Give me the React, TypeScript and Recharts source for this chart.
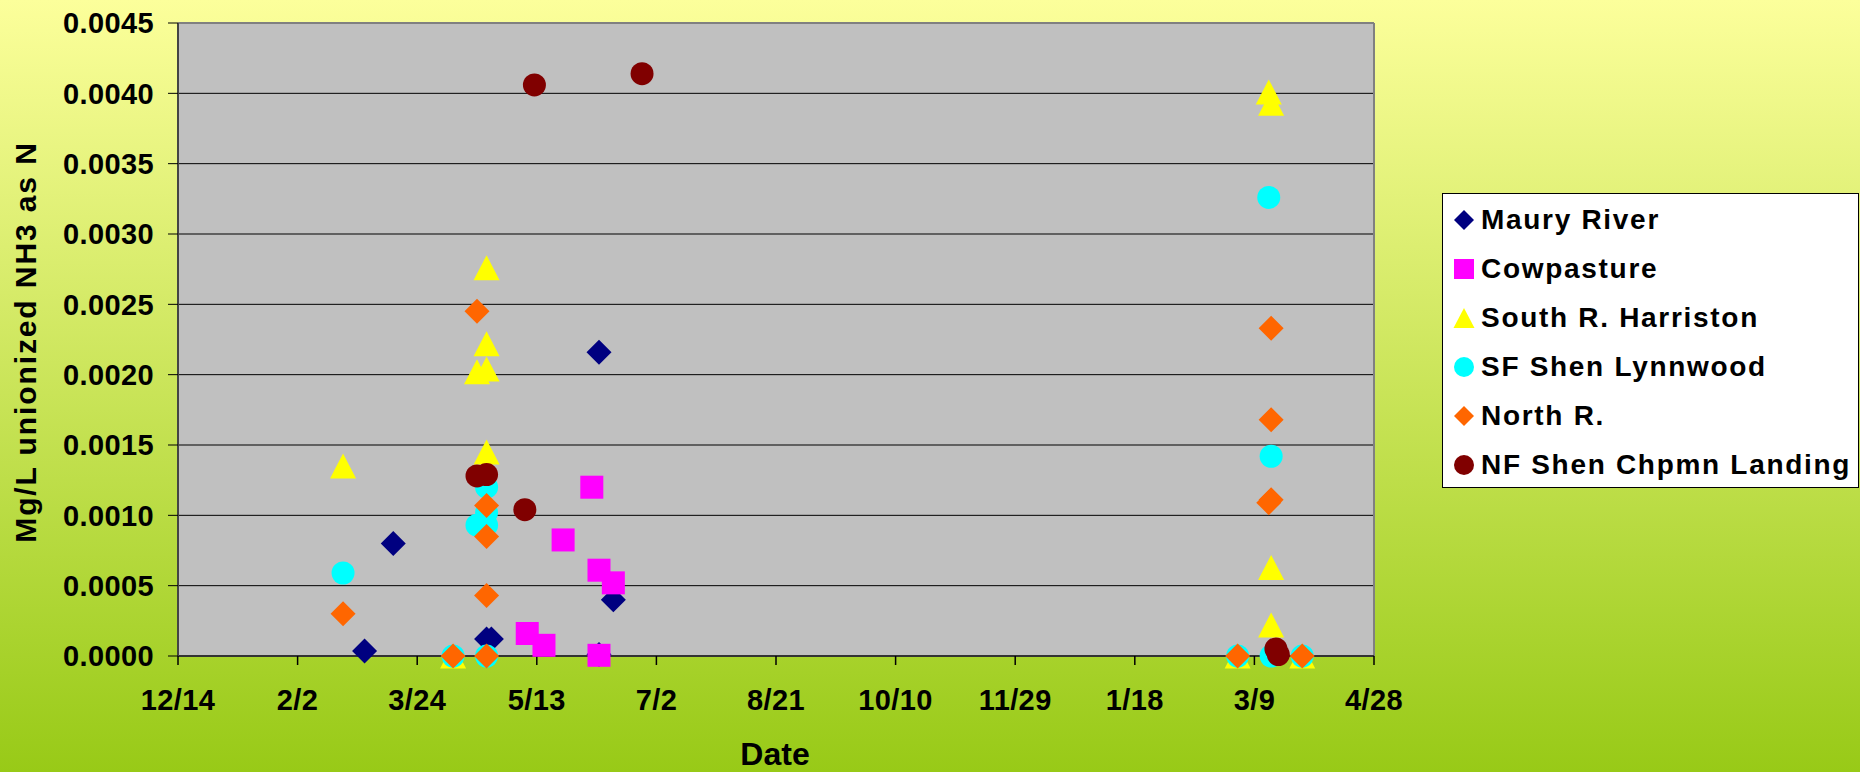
import React from 'react';
import { ScatterChart, Scatter, XAxis, YAxis, CartesianGrid, ReferenceLine, Label } from 'recharts';

// day 0 of the x axis (Excel axis minimum)
const BASE_DATE = '2004-12-14';

const X_TICK_DATES = [
    '2004-12-14', '2005-02-02', '2005-03-24', '2005-05-13', '2005-07-02', '2005-08-21',
    '2005-10-10', '2005-11-29', '2006-01-18', '2006-03-09', '2006-04-28',
];
const Y_TICKS = [0, 0.0005, 0.001, 0.0015, 0.002, 0.0025, 0.003, 0.0035, 0.004, 0.0045];

// [sample date, Mg/L unionized NH3 as N]
const MAURY_RIVER: [string, number][] = [
    ['2005-03-02', 0.000036],
    ['2005-03-14', 0.0008],
    ['2005-04-22', 0.00012],
    ['2005-04-24', 0.00012],
    ['2005-06-08', 0.00216],
    ['2005-06-08', 0.00001],
    ['2005-06-14', 0.0004],
];

const COWPASTURE: [string, number][] = [
    ['2005-05-09', 0.00016],
    ['2005-05-16', 0.000076],
    ['2005-05-24', 0.000825],
    ['2005-06-05', 0.0012],
    ['2005-06-08', 0.00061],
    ['2005-06-14', 0.00052],
    ['2005-06-08', 0.000005],
];

const SOUTH_R_HARRISTON: [string, number][] = [
    ['2005-02-21', 0.00135],
    ['2005-04-08', 0.0],
    ['2005-04-18', 0.00202],
    ['2005-04-22', 0.00276],
    ['2005-04-22', 0.00222],
    ['2005-04-22', 0.00204],
    ['2005-04-22', 0.00145],
    ['2006-03-02', 0.0],
    ['2006-03-15', 0.00401],
    ['2006-03-16', 0.00393],
    ['2006-03-16', 0.00063],
    ['2006-03-16', 0.00022],
    ['2006-03-29', 0.0],
];

const SF_SHEN_LYNNWOOD: [string, number][] = [
    ['2005-02-21', 0.00059],
    ['2005-04-08', 0.0],
    ['2005-04-18', 0.00093],
    ['2005-04-22', 0.0012],
    ['2005-04-22', 0.00102],
    ['2005-04-22', 0.00093],
    ['2005-04-22', 0.0],
    ['2006-03-02', 0.0],
    ['2006-03-15', 0.00326],
    ['2006-03-16', 0.00142],
    ['2006-03-16', 0.0],
    ['2006-03-29', 0.0],
];

const NORTH_R: [string, number][] = [
    ['2005-02-21', 0.0003],
    ['2005-04-08', 0.0],
    ['2005-04-18', 0.00245],
    ['2005-04-22', 0.00107],
    ['2005-04-22', 0.00085],
    ['2005-04-22', 0.00043],
    ['2005-04-22', 0.0],
    ['2006-03-02', 0.0],
    ['2006-03-16', 0.00233],
    ['2006-03-16', 0.00168],
    ['2006-03-16', 0.00111],
    ['2006-03-15', 0.00109],
    ['2006-03-29', 0.0],
];

const NF_SHEN_CHPMN_LANDING: [string, number][] = [
    ['2005-04-18', 0.00128],
    ['2005-04-22', 0.00129],
    ['2005-05-08', 0.00104],
    ['2005-05-12', 0.00406],
    ['2005-06-26', 0.00414],
    ['2006-03-18', 0.00005],
    ['2006-03-19', 0.00001],
];

const DAY_MS = 86400000;
const toDay = (s: string) => (Date.parse(s) - Date.parse(BASE_DATE)) / DAY_MS;
const toPoints = (rows: [string, number][]) => rows.map(([d, v]) => ({ x: toDay(d), y: v }));
const fmtDate = (day: number) => {
    const dt = new Date(Date.parse(BASE_DATE) + day * DAY_MS);
    return `${dt.getUTCMonth() + 1}/${dt.getUTCDate()}`;
};

const FONT = '"Liberation Sans", Arial, sans-serif';

// Excel-style marker shapes
const Diamond = ({ cx, cy, fill, r = 12.5 }: any) => (
    <polygon points={`${cx},${cy - r} ${cx + r},${cy} ${cx},${cy + r} ${cx - r},${cy}`} fill={fill} />
);
const Square = ({ cx, cy, fill, r = 11.5 }: any) => (
    <rect x={cx - r} y={cy - r} width={r * 2} height={r * 2} fill={fill} />
);
const Triangle = ({ cx, cy, fill, r = 12.5 }: any) => (
    <polygon points={`${cx},${cy - r} ${cx + r + 0.5},${cy + r} ${cx - r - 0.5},${cy + r}`} fill={fill} />
);
const Dot = ({ cx, cy, fill, r = 11.5 }: any) => <circle cx={cx} cy={cy} r={r} fill={fill} />;

const SERIES = [
    { name: 'Maury River', rows: MAURY_RIVER, color: '#000080', Shape: Diamond },
    { name: 'Cowpasture', rows: COWPASTURE, color: '#FF00FF', Shape: Square },
    { name: 'South R. Harriston', rows: SOUTH_R_HARRISTON, color: '#FFFF00', Shape: Triangle },
    { name: 'SF Shen Lynnwood', rows: SF_SHEN_LYNNWOOD, color: '#00FFFF', Shape: Dot },
    { name: 'North R.', rows: NORTH_R, color: '#FF6600', Shape: Diamond },
    { name: 'NF Shen Chpmn Landing', rows: NF_SHEN_CHPMN_LANDING, color: '#800000', Shape: Dot },
];

const ChartLegend = () => (
    <div
        style={{
            position: 'absolute', left: 1442, top: 193, width: 415, height: 292,
            border: '1px solid #000', background: '#fff', paddingTop: 1, boxSizing: 'content-box',
        }}
    >
        {SERIES.map(({ name, color, Shape }) => (
            <div key={name} style={{ height: 49, display: 'flex', alignItems: 'center' }}>
                <svg width={22} height={22} style={{ marginLeft: 10, flex: 'none' }}>
                    <Shape cx={11} cy={11} fill={color} r={10} />
                </svg>
                <span
                    style={{
                        marginLeft: 6, fontFamily: FONT, fontWeight: 700, fontSize: 28,
                        letterSpacing: 1.7, lineHeight: '49px', color: '#000', whiteSpace: 'nowrap',
                    }}
                >
                    {name}
                </span>
            </div>
        ))}
    </div>
);

const tickStyle = { fontFamily: FONT, fontWeight: 700, fontSize: 29, fill: '#000', letterSpacing: 0.4 };

export default function App() {
    const xTicks = X_TICK_DATES.map(toDay);

    return (
        <div
            style={{
                position: 'absolute', left: 0, top: 0, width: 1860, height: 772, overflow: 'hidden',
                background: 'linear-gradient(to bottom, #FCFF9B 0%, #98CA17 100%)',
            }}
        >
            <ScatterChart width={1860} height={772} margin={{ top: 23, right: 486, bottom: 0, left: 0 }}>
                <CartesianGrid vertical={false} stroke="#000" fill="#C0C0C0" fillOpacity={1} />
                <XAxis
                    type="number"
                    dataKey="x"
                    domain={[xTicks[0], xTicks[xTicks.length - 1]]}
                    ticks={xTicks}
                    interval={0}
                    tickFormatter={fmtDate}
                    height={116}
                    tickSize={9}
                    tickMargin={24}
                    tick={tickStyle}
                    tickLine={{ stroke: '#000', strokeWidth: 1.5 }}
                    axisLine={{ stroke: '#333', strokeWidth: 2 }}
                >
                    <Label
                        content={() => (
                            <text x={775} y={765} textAnchor="middle" fontFamily={FONT} fontWeight={700} fontSize={32} fill="#000">
                                Date
                            </text>
                        )}
                    />
                </XAxis>
                <YAxis
                    type="number"
                    dataKey="y"
                    domain={[0, 0.0045]}
                    ticks={Y_TICKS}
                    interval={0}
                    tickFormatter={(v: number) => v.toFixed(4)}
                    width={178}
                    tickSize={10}
                    tickMargin={14}
                    tick={tickStyle}
                    tickLine={{ stroke: '#000', strokeWidth: 1 }}
                    axisLine={{ stroke: '#444', strokeWidth: 2 }}
                >
                    <Label
                        content={() => (
                            <text
                                x={36} y={342} transform="rotate(-90 36 342)" textAnchor="middle"
                                fontFamily={FONT} fontWeight={700} fontSize={30} letterSpacing={1.9} fill="#000"
                            >
                                Mg/L unionized NH3 as N
                            </text>
                        )}
                    />
                </YAxis>
                <ReferenceLine y={0.0045} stroke="#808080" strokeWidth={2} />
                <ReferenceLine x={xTicks[xTicks.length - 1]} stroke="#808080" strokeWidth={2} />
                {SERIES.map(({ name, rows, color, Shape }) => (
                    <Scatter
                        key={name}
                        name={name}
                        data={toPoints(rows)}
                        fill={color}
                        isAnimationActive={false}
                        shape={(p: any) => <Shape cx={p.cx} cy={p.cy} fill={color} />}
                    />
                ))}
            </ScatterChart>
            <ChartLegend />
        </div>
    );
}
